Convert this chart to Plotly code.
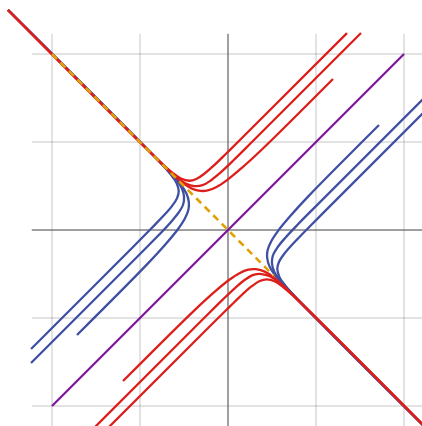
import plotly.graph_objects as go

# Trajectories through the saddle near (-0.55, 0.55): red leave parallel to y = x,
# blue leave along y = -x.  Values in data units.
red_a_x = [-2.5, -0.7475, -0.63, -0.535, -0.44, -0.36, -0.275, -0.1725, -0.02, 0.2065, 1.352]
red_a_y = [2.5, 0.7525, 0.65, 0.585, 0.56, 0.58, 0.635, 0.7225, 0.87, 1.0935, 2.238]
red_b_x = [-2.5, -0.6975, -0.565, -0.475, -0.38, -0.29, -0.2, -0.095, 0.06, 0.286, 1.5115]
red_b_y = [2.5, 0.7025, 0.585, 0.525, 0.5, 0.51, 0.56, 0.645, 0.79, 1.014, 2.2385]
red_c_x = [-2.5, -0.6475, -0.515, -0.41, -0.315, -0.23, -0.13, -0.015, 0.15, 0.385, 1.193]
red_c_y = [2.5, 0.6525, 0.535, 0.47, 0.445, 0.45, 0.49, 0.565, 0.7, 0.915, 1.716]

blue_a_x = [-2.5, -0.7525, -0.65, -0.585, -0.56, -0.58, -0.635, -0.7225, -0.87, -1.0935, -2.238]
blue_a_y = [2.5, 0.7475, 0.63, 0.535, 0.44, 0.36, 0.275, 0.1725, 0.02, -0.2065, -1.352]
blue_b_x = [-2.5, -0.7025, -0.585, -0.525, -0.5, -0.51, -0.56, -0.645, -0.79, -1.014, -2.2385]
blue_b_y = [2.5, 0.6975, 0.565, 0.475, 0.38, 0.29, 0.2, 0.095, -0.06, -0.286, -1.5115]
blue_c_x = [-2.5, -0.6525, -0.535, -0.47, -0.445, -0.45, -0.49, -0.565, -0.7, -0.915, -1.716]
blue_c_y = [2.5, 0.6475, 0.515, 0.41, 0.315, 0.23, 0.13, 0.015, -0.15, -0.385, -1.193]

# Trajectories through the saddle near (0.55, -0.55)
red_d_x = [2.5, 0.7475, 0.63, 0.535, 0.44, 0.36, 0.275, 0.1725, 0.02, -0.2065, -1.352]
red_d_y = [-2.5, -0.7525, -0.65, -0.585, -0.56, -0.58, -0.635, -0.7225, -0.87, -1.0935, -2.238]
red_e_x = [2.5, 0.6975, 0.565, 0.475, 0.38, 0.29, 0.2, 0.095, -0.06, -0.286, -1.5115]
red_e_y = [-2.5, -0.7025, -0.585, -0.525, -0.5, -0.51, -0.56, -0.645, -0.79, -1.014, -2.2385]
red_f_x = [2.5, 0.6475, 0.515, 0.41, 0.315, 0.23, 0.13, 0.015, -0.15, -0.385, -1.193]
red_f_y = [-2.5, -0.6525, -0.535, -0.47, -0.445, -0.45, -0.49, -0.565, -0.7, -0.915, -1.716]

blue_d_x = [2.5, 0.7525, 0.65, 0.585, 0.56, 0.58, 0.635, 0.7225, 0.87, 1.0935, 2.238]
blue_d_y = [-2.5, -0.7475, -0.63, -0.535, -0.44, -0.36, -0.275, -0.1725, -0.02, 0.2065, 1.352]
blue_e_x = [2.5, 0.7025, 0.585, 0.525, 0.5, 0.51, 0.56, 0.645, 0.79, 1.014, 2.2385]
blue_e_y = [-2.5, -0.6975, -0.565, -0.475, -0.38, -0.29, -0.2, -0.095, 0.06, 0.286, 1.5115]
blue_f_x = [2.5, 0.6525, 0.535, 0.47, 0.445, 0.45, 0.49, 0.565, 0.7, 0.915, 1.716]
blue_f_y = [-2.5, -0.6475, -0.515, -0.41, -0.315, -0.23, -0.13, -0.015, 0.15, 0.385, 1.193]

# Straight reference lines
diag_x = [-2, 2]
diag_y = [-2, 2]
anti_x = [-2, 0.52]
anti_y = [2, -0.52]

grid_ticks = [-2, -1, 1, 2]
frame_lim = 2.23

RED = "#dd1f1c"
BLUE = "#3f50a3"
PURPLE = "#7c1b96"
ORANGE = "#e2a006"

fig = go.Figure()

blues = [(blue_a_x, blue_a_y), (blue_b_x, blue_b_y), (blue_c_x, blue_c_y),
         (blue_d_x, blue_d_y), (blue_e_x, blue_e_y), (blue_f_x, blue_f_y)]
reds = [(red_a_x, red_a_y), (red_b_x, red_b_y), (red_c_x, red_c_y),
        (red_d_x, red_d_y), (red_e_x, red_e_y), (red_f_x, red_f_y)]

for xs, ys in blues:
    fig.add_trace(go.Scatter(x=xs, y=ys, mode="lines",
                             line=dict(color=BLUE, width=2.3, shape="spline", smoothing=1),
                             hoverinfo="skip", showlegend=False))
fig.add_trace(go.Scatter(x=diag_x, y=diag_y, mode="lines",
                         line=dict(color=PURPLE, width=2.3),
                         hoverinfo="skip", showlegend=False))
for xs, ys in reds:
    fig.add_trace(go.Scatter(x=xs, y=ys, mode="lines",
                             line=dict(color=RED, width=2.3, shape="spline", smoothing=1),
                             hoverinfo="skip", showlegend=False))
fig.add_trace(go.Scatter(x=anti_x, y=anti_y, mode="lines",
                         line=dict(color=ORANGE, width=2.6, dash="7px,5px"),
                         hoverinfo="skip", showlegend=False))

# Grid and axes, limited to the frame
shapes = []
for t in grid_ticks:
    shapes.append(dict(type="line", xref="x", yref="y", x0=t, x1=t, y0=-frame_lim, y1=frame_lim,
                       line=dict(color="rgba(0,0,0,0.15)", width=1.5), layer="below"))
    shapes.append(dict(type="line", xref="x", yref="y", y0=t, y1=t, x0=-frame_lim, x1=frame_lim,
                       line=dict(color="rgba(0,0,0,0.15)", width=1.5), layer="below"))
shapes.append(dict(type="line", xref="x", yref="y", x0=0, x1=0, y0=-frame_lim, y1=frame_lim,
                   line=dict(color="#404040", width=1), layer="below"))
shapes.append(dict(type="line", xref="x", yref="y", y0=0, y1=0, x0=-frame_lim, x1=frame_lim,
                   line=dict(color="#404040", width=1), layer="below"))

fig.update_layout(
    width=422, height=426,
    margin=dict(l=0, r=0, t=0, b=0),
    paper_bgcolor="white", plot_bgcolor="white",
    shapes=shapes,
    xaxis=dict(range=[-2.591, 2.2045], visible=False, fixedrange=True),
    yaxis=dict(range=[-2.227, 2.614], visible=False, fixedrange=True),
)

fig.write_html("out.html")
